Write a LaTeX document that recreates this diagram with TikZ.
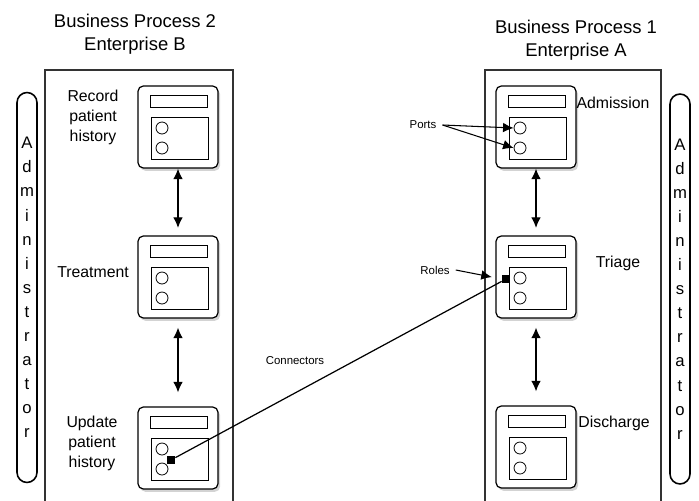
\documentclass[tikz,border=0pt]{standalone}
\usepackage{fontspec}
\setmainfont{Liberation Sans}
\usetikzlibrary{arrows.meta,shadows}

\begin{document}
\begin{tikzpicture}[x=0.02cm, y=-0.02cm, font=\fontsize{9}{11.4}\selectfont,
  >={Latex[length=6pt,width=5.5pt]}]

\tikzset{
  cbox/.style   = {draw, line width=0.7pt, rounded corners=3pt, fill=white,
                   minimum width=1.6cm, minimum height=1.64cm,
                   drop shadow={shadow xshift=1.2pt, shadow yshift=-1.6pt, opacity=0.35}},
  cpart/.style  = {line width=0.5pt},
  port/.style   = {draw, circle, line width=0.45pt, inner sep=0pt, minimum size=0.24cm},
  role/.style   = {fill=black, inner sep=0pt, minimum size=0.16cm},
  pill/.style   = {draw, line width=0.9pt, rounded corners=0.2cm, inner sep=0pt,
                   minimum width=0.4cm, minimum height=7.8cm, align=center,
                   font=\fontsize{9.5}{13.7}\selectfont},
  title/.style  = {align=center, font=\fontsize{10.5}{13}\selectfont},
  lbl/.style    = {align=center},
  tiny/.style   = {font=\fontsize{6.5}{8}\selectfont},
  flow/.style   = {<->, line width=0.7pt},
  component/.pic = {
    \node[cbox] (-box) at (0,0) {};
    \draw[cpart] (-28,-32) rectangle (29,-20);
    \draw[cpart] (-27,-10) rectangle (30,32);
    \node[port] (-p1) at (-16,1) {};
    \node[port] (-p2) at (-16,21) {};
  },
}

\clip (0,0) rectangle (699,500);

%% ---------- enterprise B, left ----------
\node[title] (titleB) at (135,34.5) {Business Process 2\\Enterprise B};
\draw[line width=1pt, black!80] (45,70) rectangle (233,510);
\node[pill] (adminB) at (27,287.5) {A\\d\\m\\i\\n\\i\\s\\t\\r\\a\\t\\o\\r};

\pic (rec) at (178,127) {component};
\pic (trt) at (178,277) {component};
\pic (upd) at (178,448) {component};

\node[lbl] (recL) at (93,117) {Record\\patient\\history};
\node[lbl] (trtL) at (93,272) {Treatment};
\node[lbl] (updL) at (92,443) {Update\\patient\\history};

\draw[flow, shorten >=0.15cm] (rec-box.south) -- (trt-box.north);
\draw[flow, shorten <=0.18cm, shorten >=0.28cm] (trt-box.south) -- (upd-box.north);

%% ---------- enterprise A, right ----------
\node[title] (titleA) at (576,40.5) {Business Process 1\\Enterprise A};
\draw[line width=1pt, black!80] (485,70) rectangle (661,510);
\node[pill] (adminA) at (680,289) {A\\d\\m\\i\\n\\i\\s\\t\\r\\a\\t\\o\\r};

\pic (adm) at (536,127) {component};
\pic (tri) at (536,277) {component};
\pic (dis) at (536,447) {component};

\node[lbl] (admL) at (613,103) {Admission};
\node[lbl] (triL) at (618,263) {Triage};
\node[lbl] (disL) at (614,423) {Discharge};

\draw[flow, shorten >=0.15cm] (adm-box.south) -- (tri-box.north);
\draw[flow, shorten <=0.18cm, shorten >=0.28cm] (tri-box.south) -- (dis-box.north);

%% ---------- ports, roles, connector ----------
\node[role] (roleB) at (171,460) {};
\node[role] (roleA) at (506,279) {};
\draw[line width=0.7pt] (roleB) -- (roleA);

\node[tiny] (ports) at (423,125) {Ports};
\draw[->, line width=0.6pt] (ports.east) -- (adm-p1.west);
\draw[->, line width=0.6pt] (ports.east) -- (adm-p2.west);

\node[tiny] (roles) at (435,270) {Roles};
\draw[->, line width=0.6pt, shorten >=0.2cm] (roles.east) -- (roleA.west);

\node[tiny] (conn) at (295,361) {Connectors};

\end{tikzpicture}
\end{document}
